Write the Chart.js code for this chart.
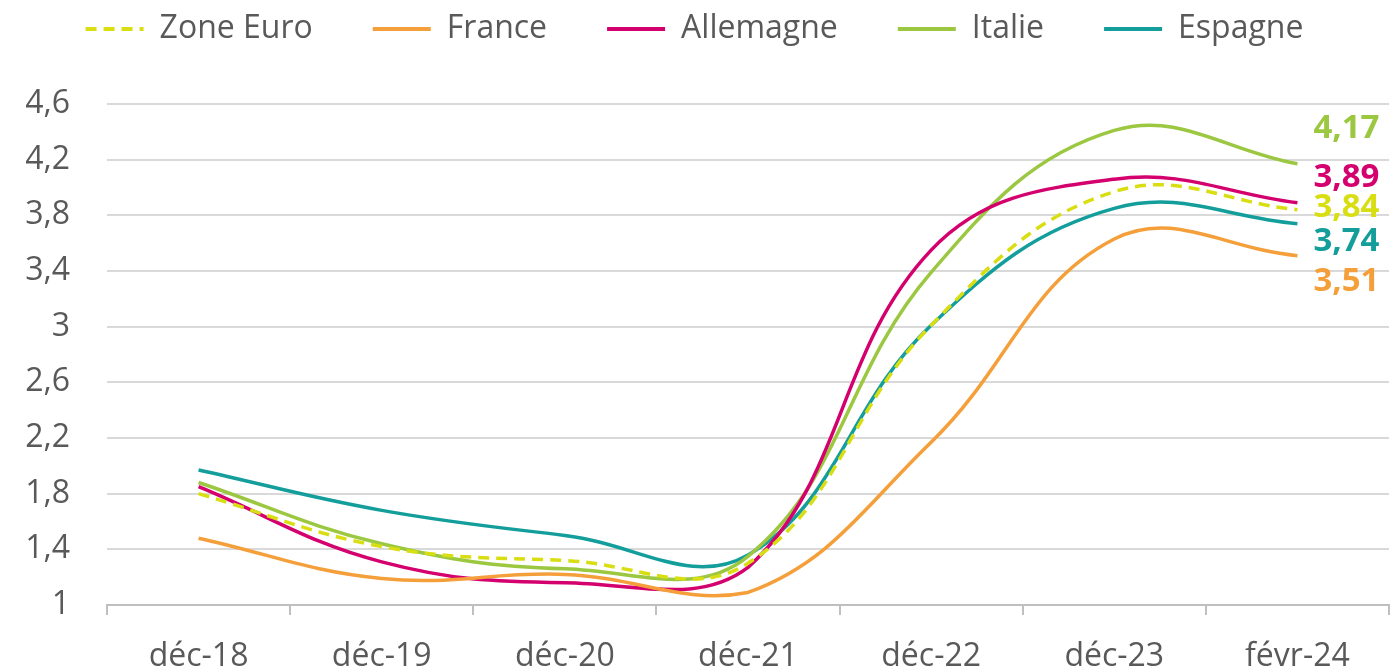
<!DOCTYPE html>
<html>
<head>
<meta charset="utf-8">
<script src="https://cdn.jsdelivr.net/npm/chart.js"></script>
<style>
html, body { margin: 0; padding: 0; background: #fff; }
.chart-box { width: 1391px; height: 671px; }
</style>
</head>
<body>
<div class="chart-box"><canvas id="rateChart"></canvas></div>
<script>
  const labels = ["déc-18", "déc-19", "déc-20", "déc-21", "déc-22", "déc-23", "févr-24"];
  const zoneEuro  = [1.80, 1.42, 1.32, 1.30, 3.01, 3.97, 3.84];
  const france    = [1.48, 1.19, 1.22, 1.09, 2.17, 3.63, 3.51];
  const allemagne = [1.85, 1.31, 1.16, 1.27, 3.55, 4.06, 3.89];
  const italie    = [1.88, 1.44, 1.26, 1.35, 3.39, 4.41, 4.17];
  const espagne   = [1.97, 1.68, 1.50, 1.36, 3.01, 3.85, 3.74];
  const yTicks = [1, 1.4, 1.8, 2.2, 2.6, 3, 3.4, 3.8, 4.2, 4.6];

  const grey = "#595959";
  const font = "'Open Sans', sans-serif";
  const fmt = v => String(v).replace(".", ",");

  function series(label, data, color, labelDy, dash) {
    return {
      label, data,
      borderColor: color,
      backgroundColor: color,
      borderWidth: 3.5,
      borderDash: dash || [],
      pointRadius: 0,
      tension: 0.4,
      labelDy
    };
  }

  // value labels at the end of each line
  const endLabels = {
    id: "endLabels",
    afterDatasetsDraw(chart) {
      const ctx = chart.ctx;
      ctx.save();
      ctx.font = "bold 33px " + font;
      ctx.textBaseline = "middle";
      chart.data.datasets.forEach((ds, i) => {
        const meta = chart.getDatasetMeta(i);
        const pt = meta.data[meta.data.length - 1];
        ctx.fillStyle = ds.borderColor;
        ctx.fillText(fmt(ds.data[ds.data.length - 1]), pt.x + 16, pt.y + ds.labelDy);
      });
      ctx.restore();
    }
  };

  // legend sits high, plot starts lower
  const legendSpot = {
    id: "legendSpot",
    beforeInit(chart) {
      const fit = chart.legend.fit;
      chart.legend.fit = function () {
        fit.bind(chart.legend)();
        this.height = 104;
      };
    },
    afterLayout(chart) {
      const lg = chart.legend;
      lg.top = -47;
      lg.bottom = lg.top + lg.height;
      lg.left -= 13;
      lg.right -= 13;
    }
  };

  new Chart(document.getElementById("rateChart"), {
    type: "line",
    data: {
      labels,
      datasets: [
        series("Zone Euro", zoneEuro, "#d9de12", -2, [11, 7]),
        series("France", france, "#f59f3a", 26),
        series("Allemagne", allemagne, "#d4006e", -25),
        series("Italie", italie, "#9bc741", -35),
        series("Espagne", espagne, "#139e9c", 18)
      ]
    },
    options: {
      responsive: true,
      maintainAspectRatio: false,
      animation: false,
      layout: { padding: { left: 26, right: 2, top: 0, bottom: 0 } },
      plugins: {
        tooltip: { enabled: false },
        legend: {
          position: "top",
          labels: {
            usePointStyle: true,
            pointStyleWidth: 58,
            boxHeight: 4,
            padding: 60,
            color: grey,
            font: { family: font, size: 32 },
            generateLabels(chart) {
              return chart.data.datasets.map((ds, i) => ({
                text: ds.label,
                fillStyle: ds.borderColor,
                strokeStyle: ds.borderColor,
                lineWidth: 4,
                lineDash: ds.borderDash,
                pointStyle: "line",
                fontColor: grey,
                hidden: false,
                datasetIndex: i
              }));
            }
          }
        }
      },
      scales: {
        x: {
          offset: true,
          afterFit(axis) { axis.height = 66; },
          grid: { drawOnChartArea: false, color: "#bfbfbf", lineWidth: 2, tickLength: 10, offset: true },
          border: { color: "#bfbfbf", width: 2 },
          ticks: { color: grey, font: { family: font, size: 32 }, padding: 23, maxRotation: 0 }
        },
        y: {
          min: 1,
          max: 4.6,
          afterFit(axis) { axis.width = 81; },
          afterBuildTicks(axis) { axis.ticks = yTicks.map(v => ({ value: v })); },
          grid: { color: "#d9d9d9", lineWidth: 2, drawTicks: false },
          border: { display: false },
          ticks: { color: grey, font: { family: font, size: 32 }, padding: 37, callback: v => fmt(v) }
        }
      }
    },
    plugins: [endLabels, legendSpot]
  });
</script>
</body>
</html>
